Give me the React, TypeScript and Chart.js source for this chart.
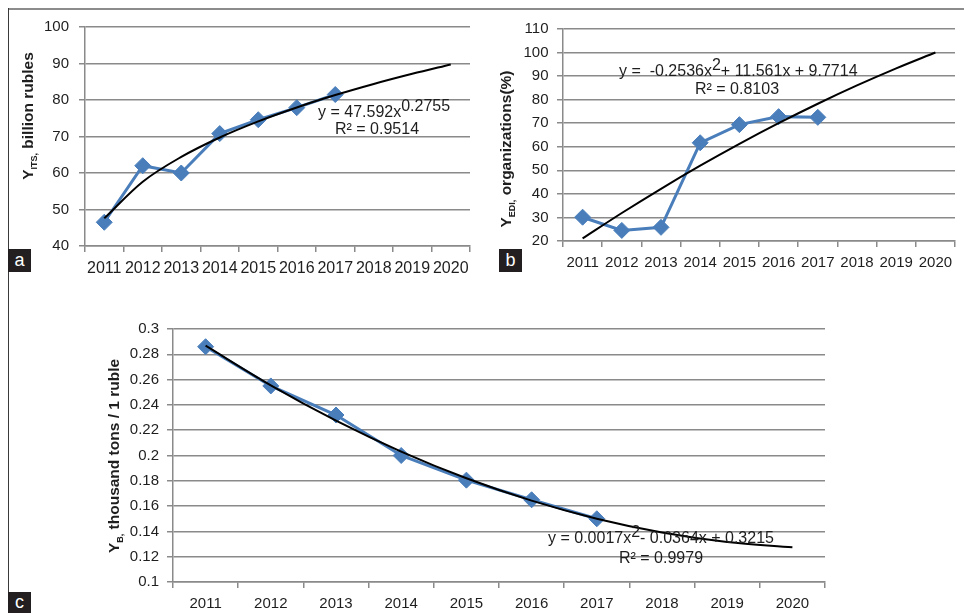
import React, { useEffect, useRef } from "react";
import { Chart, registerables } from "chart.js";

Chart.register(...registerables);

// ---------- data ----------
const years = ["2011", "2012", "2013", "2014", "2015", "2016", "2017", "2018", "2019", "2020"];

const itsValues = [46.5, 62.0, 60.0, 70.8, 74.6, 77.9, 81.5];
const itsTrend = [47.59, 57.61, 64.41, 69.73, 74.15, 77.96, 81.35, 84.4, 87.18, 89.75];
const itsTicks = [40, 50, 60, 70, 80, 90, 100];

const ediValues = [30.1, 24.5, 25.8, 61.7, 69.4, 72.8, 72.5];
const ediTrend = [21.08, 31.88, 42.17, 51.96, 61.24, 70.01, 78.27, 86.03, 93.28, 100.02];
const ediTicks = [20, 30, 40, 50, 60, 70, 80, 90, 100, 110];

const bValues = [0.286, 0.255, 0.232, 0.2, 0.1805, 0.165, 0.15];
const bTrend = [0.2868, 0.2555, 0.2276, 0.2031, 0.182, 0.1643, 0.15, 0.1391, 0.1316, 0.1275];
const bTicks = [0.1, 0.12, 0.14, 0.16, 0.18, 0.2, 0.22, 0.24, 0.26, 0.28, 0.3];

// ---------- style ----------
const FONT = "'Liberation Sans', Arial, Helvetica, sans-serif";
const BLUE = "#4a7ebb";
const GRID = "#8a8a8a";
const TXT = "#1e1e1e";

type Part = { text: string; sub?: boolean; sup?: boolean };
type Eq = { x: number; y: number; parts: Part[] };
type Box = { left: number; top: number; width: number; height: number };
type Plot = { left: number; right: number; top: number; bottom: number };

interface Props {
  box: Box;
  plot: Plot;
  values: number[];
  trend: number[];
  ticks: number[];
  tickPad: number;
  xFont: number;
  title: Part[];
  titlePos: { x: number; y: number };
  eqs: Eq[];
  fmt?: (v: number) => string;
}

function drawParts(ctx: CanvasRenderingContext2D, parts: Part[], x: number, y: number, bold: boolean, size: number) {
  let cx = x;
  for (const p of parts) {
    const s = p.sub ? 9 : size;
    ctx.font = `${bold ? "bold " : ""}${s}px ${FONT}`;
    const dy = p.sub ? 4 : p.sup ? -6 : 0;
    ctx.fillText(p.text, cx, y + dy);
    cx += ctx.measureText(p.text).width;
  }
  return cx;
}

function measureParts(ctx: CanvasRenderingContext2D, parts: Part[], bold: boolean, size: number) {
  let w = 0;
  for (const p of parts) {
    const s = p.sub ? 9 : size;
    ctx.font = `${bold ? "bold " : ""}${s}px ${FONT}`;
    w += ctx.measureText(p.text).width;
  }
  return w;
}

function PanelChart(props: Props) {
  const ref = useRef<HTMLCanvasElement | null>(null);
  useEffect(() => {
    const { box, plot, values, trend, ticks, tickPad, xFont, title, titlePos, eqs, fmt } = props;
    const canvas = ref.current;
    if (!canvas) return;
    const annot = {
      id: "annot",
      afterDraw(chart: any) {
        const ctx: CanvasRenderingContext2D = chart.ctx;
        ctx.save();
        ctx.fillStyle = TXT;
        ctx.textBaseline = "alphabetic";
        ctx.textAlign = "left";
        const w = measureParts(ctx, title, true, 15.5);
        ctx.save();
        ctx.translate(titlePos.x - box.left, titlePos.y - box.top);
        ctx.rotate(-Math.PI / 2);
        drawParts(ctx, title, -w / 2, 0, true, 15.5);
        ctx.restore();
        for (const e of eqs) {
          drawParts(ctx, e.parts, e.x - box.left, e.y - box.top, false, 16);
        }
        ctx.restore();
      },
    };
    const chart = new Chart(canvas, {
      type: "line",
      data: {
        labels: years,
        datasets: [
          {
            data: trend,
            borderColor: "#000000",
            borderWidth: 2,
            pointRadius: 0,
            tension: 0.4,
            cubicInterpolationMode: "monotone",
            order: 0,
          },
          {
            data: values,
            borderColor: BLUE,
            backgroundColor: BLUE,
            borderWidth: 3,
            pointStyle: "rectRot",
            pointRadius: 8,
            pointBorderWidth: 1,
            pointBackgroundColor: BLUE,
            pointBorderColor: BLUE,
            tension: 0,
            order: 1,
          },
        ],
      },
      options: {
        responsive: false,
        animation: false,
        events: [],
        layout: {
          padding: {
            left: 0,
            top: plot.top - box.top,
            right: box.left + box.width - plot.right,
            bottom: 0,
          },
        },
        plugins: { legend: { display: false }, tooltip: { enabled: false }, title: { display: false } },
        scales: {
          x: {
            offset: true,
            grid: {
              offset: true,
              drawOnChartArea: false,
              drawTicks: true,
              tickLength: 6,
              color: GRID,
              lineWidth: 1.5,
            },
            border: { color: GRID, width: 1.5 },
            ticks: {
              color: TXT,
              font: { family: FONT, size: xFont },
              padding: 7,
              maxRotation: 0,
              autoSkip: false,
            },
            afterFit: (s: any) => {
              s.height = box.top + box.height - plot.bottom;
            },
          },
          y: {
            min: ticks[0],
            max: ticks[ticks.length - 1],
            grid: { color: GRID, lineWidth: 1.5, tickLength: 6, drawTicks: true },
            border: { color: GRID, width: 1.5 },
            ticks: {
              color: TXT,
              font: { family: FONT, size: 15 },
              padding: tickPad,
              callback: (v: any) => (fmt ? fmt(Number(v)) : String(v)),
            },
            afterBuildTicks: (s: any) => {
              s.ticks = ticks.map((v) => ({ value: v }));
            },
            afterFit: (s: any) => {
              s.width = plot.left - box.left;
            },
          },
        },
      } as any,
      plugins: [annot],
    });
    return () => chart.destroy();
  }, []);
  const { box } = props;
  return (
    <canvas
      ref={ref}
      width={box.width}
      height={box.height}
      style={{ position: "absolute", left: box.left, top: box.top, width: box.width, height: box.height }}
    />
  );
}

const labelBox = (text: string, left: number, top: number, w: number, h: number) => (
  <div
    style={{
      position: "absolute",
      left,
      top,
      width: w,
      height: h,
      background: "#231f20",
      color: "#ffffff",
      fontFamily: FONT,
      fontSize: 18,
      lineHeight: `${h}px`,
      textAlign: "center",
      zIndex: 3,
    }}
  >
    {text}
  </div>
);

export default function App() {
  return (
    <div
      style={{
        position: "absolute",
        left: 0,
        top: 0,
        width: 964,
        height: 613,
        overflow: "hidden",
        background: "#ffffff",
      }}
    >
      <PanelChart
        box={{ left: 0, top: 0, width: 480, height: 280 }}
        plot={{ left: 85, right: 470, top: 27, bottom: 246 }}
        values={itsValues}
        trend={itsTrend}
        ticks={itsTicks}
        tickPad={10}
        xFont={16}
        title={[{ text: "Y" }, { text: "ITS,", sub: true }, { text: " billion rubles" }]}
        titlePos={{ x: 32.5, y: 116 }}
        eqs={[
          { x: 318, y: 117, parts: [{ text: "y = 47.592x" }, { text: "0.2755", sup: true }] },
          { x: 335, y: 134, parts: [{ text: "R² = 0.9514" }] },
        ]}
      />
      <PanelChart
        box={{ left: 480, top: 0, width: 484, height: 280 }}
        plot={{ left: 563, right: 963, top: 29, bottom: 241 }}
        values={ediValues}
        trend={ediTrend}
        ticks={ediTicks}
        tickPad={8.5}
        xFont={15}
        title={[{ text: "Y" }, { text: "EDI,", sub: true }, { text: " organizations(%)" }]}
        titlePos={{ x: 511, y: 149 }}
        eqs={[
          {
            x: 619,
            y: 76,
            parts: [{ text: "y =  -0.2536x" }, { text: "2", sup: true }, { text: "+ 11.561x + 9.7714" }],
          },
          { x: 695, y: 94, parts: [{ text: "R² = 0.8103" }] },
        ]}
      />
      <PanelChart
        box={{ left: 0, top: 280, width: 964, height: 333 }}
        plot={{ left: 173, right: 825, top: 329, bottom: 582 }}
        values={bValues}
        trend={bTrend}
        ticks={bTicks}
        tickPad={8}
        xFont={15}
        fmt={(v) => String(Number(v.toFixed(2)))}
        title={[{ text: "Y" }, { text: "B,", sub: true }, { text: " thousand tons / 1 ruble" }]}
        titlePos={{ x: 118.5, y: 456 }}
        eqs={[
          {
            x: 548,
            y: 543,
            parts: [{ text: "y = 0.0017x" }, { text: "2", sup: true }, { text: "- 0.0364x + 0.3215" }],
          },
          { x: 619, y: 563, parts: [{ text: "R² = 0.9979" }] },
        ]}
      />
      <div style={{ position: "absolute", left: 8, top: 8, width: 956, height: 1.5, background: "#8c8c8c", zIndex: 2 }} />
      <div style={{ position: "absolute", left: 7.5, top: 8, width: 1.5, height: 605, background: "#3a3a3a", zIndex: 2 }} />
      {labelBox("a", 8, 249, 23, 23)}
      {labelBox("b", 499, 249, 23, 23)}
      {labelBox("c", 8, 592, 23, 21)}
    </div>
  );
}
